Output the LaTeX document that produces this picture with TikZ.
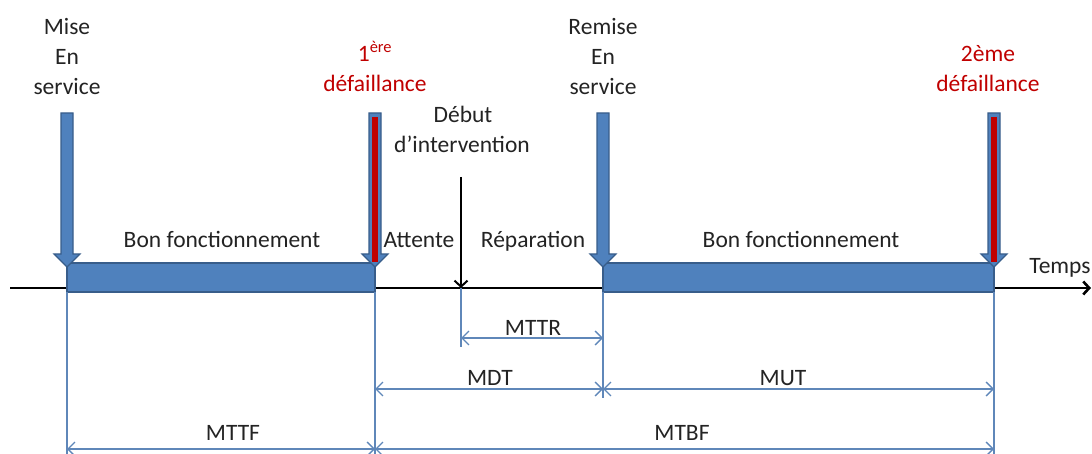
\documentclass[tikz,border=0pt]{standalone}
\usepackage{fontspec}
\setmainfont{Carlito}
\usetikzlibrary{arrows.meta,calc}
\definecolor{barfill}{RGB}{79,129,189}
\definecolor{barline}{RGB}{56,93,138}
\definecolor{failred}{RGB}{192,0,0}
\definecolor{dimblue}{RGB}{95,135,185}
\definecolor{txt}{RGB}{35,35,35}

% Fat event arrow pointing down onto the time axis: #1 = x position, #2 = colour of the inner stripe
\newcommand\evtarrow[2]{%
  \filldraw[bar] (#1-6,113) -- (#1+6,113) -- (#1+6,254) -- (#1+13,254) -- (#1,267)
    -- (#1-13,254) -- (#1-6,254) -- cycle;
  \fill[#2] (#1-2.8,117) rectangle (#1+2.8,262);
}

\begin{document}
\begin{tikzpicture}[x=1pt,y=-1pt,
  font=\fontsize{23.5}{30}\selectfont,
  lbl/.style={anchor=base, inner sep=0pt, text=txt},
  redlbl/.style={lbl, text=failred},
  bar/.style={fill=barfill, draw=barline, line width=1.2pt},
  dim/.style={draw=dimblue, line width=1.3pt},
  dimarrow/.style={dim, {Straight Barb[length=7pt,width=14pt]}-{Straight Barb[length=7pt,width=14pt]}}]
\useasboundingbox (0,0) rectangle (1092,454);

% events on the time axis
\coordinate (t0) at (67,288);
\coordinate (t1) at (375,288);
\coordinate (ti) at (461,288);
\coordinate (t2) at (603,288);
\coordinate (t3) at (994,288);
\coordinate (axL) at (10,288);
\coordinate (axR) at (1091,288);
\coordinate (di) at (461,177);

% time axis
\draw[line width=2.6pt, -{Straight Barb[length=6pt,width=13pt]}] (axL) -- (axR);
\node[lbl] (temps) at (1060,274) {Temps};

% up-time bars
\draw[bar] (67,263) rectangle (375,292);
\draw[bar] (603,263) rectangle (994,292);

% event arrows
\evtarrow{67}{barfill}
\evtarrow{375}{failred}
\evtarrow{603}{barfill}
\evtarrow{994}{failred}
\draw[line width=2pt, -{Straight Barb[length=6pt,width=13pt]}] (di) -- (ti);

% event labels
\node[lbl] (mise1) at (67,35) {Mise};
\node[lbl] (mise2) at (67,65) {En};
\node[lbl] (mise3) at (67,95) {service};
\node[redlbl] (def1a) at (375,62) {1\textsuperscript{ère}};
\node[redlbl] (def1b) at (375,92) {défaillance};
\node[lbl] (deb1) at (463,123) {Début};
\node[lbl] (deb2) at (462,153) {d’intervention};
\node[lbl] (rem1) at (603,35) {Remise};
\node[lbl] (rem2) at (603,65) {En};
\node[lbl] (rem3) at (603,95) {service};
\node[redlbl] (def2a) at (988,62) {2ème};
\node[redlbl] (def2b) at (988,92) {défaillance};

% state labels
\node[lbl] (bon1) at (222,248) {Bon fonctionnement};
\node[lbl] (att) at (419,248) {Attente};
\node[lbl] (rep) at (533,248) {Réparation};
\node[lbl] (bon2) at (801,248) {Bon fonctionnement};

% extension lines
\draw[dim] ($(t0)+(0,4)$) -- ++(0,162);
\draw[dim] ($(t1)+(0,4)$) -- ++(0,162);
\draw[dim] (ti) -- ++(0,59);
\draw[dim] ($(t2)+(0,4)$) -- ++(0,106);
\draw[dim] ($(t3)+(0,4)$) -- ++(0,162);

% durations
\coordinate (r0) at (461,338);  \coordinate (r1) at (603,338);
\coordinate (d0) at (375,389);  \coordinate (d1) at (603,389);  \coordinate (d2) at (994,389);
\coordinate (f0) at (67,449);   \coordinate (f1) at (375,449);  \coordinate (f2) at (994,449);
\draw[dimarrow] (r0) -- (r1);
\draw[dimarrow] (d0) -- (d1);
\draw[dimarrow] (d1) -- (d2);
\draw[dimarrow] (f0) -- (f1);
\draw[dimarrow] (f1) -- (f2);
\node[lbl] (mttr) at (533,335) {MTTR};
\node[lbl] (mdt) at (490,385) {MDT};
\node[lbl] (mut) at (783,385) {MUT};
\node[lbl] (mttf) at (233,440) {MTTF};
\node[lbl] (mtbf) at (682,440) {MTBF};
\end{tikzpicture}
\end{document}
